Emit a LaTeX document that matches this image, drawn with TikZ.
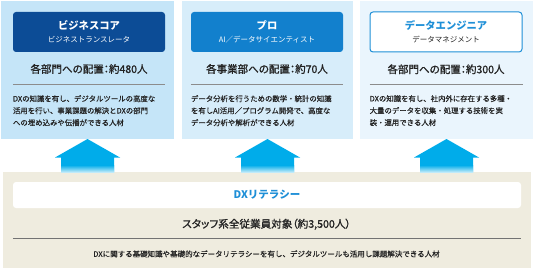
\documentclass[tikz,border=0pt]{standalone}
\usepackage{fontspec}
\setmainfont{Noto Sans CJK JP}
\newfontfamily\headfont{Noto Sans CJK JP}[FakeBold=1.2, RawFeature={+palt}]
\newfontfamily\descfont{Noto Sans CJK JP}[FakeBold=0.4]
\usetikzlibrary{positioning, calc}
\definecolor{corefill}{RGB}{197, 229, 248}
\definecolor{profill}{RGB}{215, 237, 250}
\definecolor{engfill}{RGB}{234, 245, 253}
\definecolor{corenavy}{RGB}{12, 76, 150}
\definecolor{problue}{RGB}{18, 128, 205}
\definecolor{engblue}{RGB}{30, 143, 215}
\definecolor{arrowcyan}{RGB}{0, 172, 234}
\definecolor{litbeige}{RGB}{239, 236, 223}
\definecolor{ink}{RGB}{35, 35, 35}
\definecolor{rulegray}{RGB}{140, 140, 140}
\definecolor{litrule}{RGB}{115, 115, 115}
\newcommand{\rolefont}{\fontsize{10.3}{13}\selectfont\bfseries}

\begin{document}
\begin{tikzpicture}[x=1pt, y=-1pt,
            panel/.style={inner sep=0pt, outer sep=0pt, minimum width=171pt, minimum height=138pt},
            rolebox/.style={rounded corners=3pt, minimum width=152pt, minimum height=40pt, inner sep=0pt, align=center, font=\fontsize{7.5}{13}\selectfont},
            headcount/.style={inner sep=0pt, text height=.88em, text depth=.12em, text=ink, font=\headfont\fontsize{10.5}{12}\selectfont},
            desc/.style={inner sep=0pt, align=left, text=ink, font=\descfont\fontsize{7.4}{12}\selectfont},
            divider/.style={draw=rulegray, line width=1pt},
            uparrow/.style={fill=arrowcyan},
            arrowfade/.style={top color=arrowcyan, bottom color=arrowcyan!25!white}
        ]
            \useasboundingbox (0,0) rectangle (533,270);

            % three role panels
            \node[panel, fill=corefill, minimum width=173pt] (corepanel) at (87.5,70) {};
            \node[panel, fill=profill] (propanel) at (267.5,70) {};
            \node[panel, fill=engfill, minimum width=173pt] (engpanel) at (446.5,70) {};

            \node[rolebox, fill=corenavy, text=white] (corebox) at (89,32) {{\rolefont ビジネスコア}\\ビジネストランスレータ};
            \node[rolebox, fill=problue, text=white] (probox) at (267,32) {{\rolefont プロ}\\AI／データサイエンティスト};
            \node[rolebox, fill=white, draw=engblue, line width=1pt, text=ink] (engbox) at (446,32) {{\rolefont\color{engblue}データエンジニア}\\データマネジメント};

            \node[headcount, below=11.75pt of corebox] (corecount) {各部門への配置：約480人};
            \node[headcount, below=11.75pt of probox] (procount) {各事業部への配置：約70人};
            \node[headcount, below=11.75pt of engbox] (engcount) {各部門への配置：約300人};

            \draw[divider] (corebox.west |- 0,85) -- (corebox.east |- 0,85);
            \draw[divider] (probox.west |- 0,85) -- (probox.east |- 0,85);
            \draw[divider] (engbox.west |- 0,85) -- (engbox.east |- 0,85);

            \node[desc, anchor=north west] (coredesc) at (corebox.west |- 0,95) {DXの知識を有し、デジタルツールの高度な\\活用を行い、事業課題の解決とDXの部門\\への埋め込みや伝播ができる人材};
            \node[desc, anchor=north west] (prodesc) at (probox.west |- 0,95) {データ分析を行うための数学・統計の知識\\を有しAI活用／プログラム開発で、高度な\\データ分析や解析ができる人材};
            \node[desc, anchor=north west] (engdesc) at (engbox.west |- 0,95) {DXの知識を有し、社内外に存在する多種・\\大量のデータを収集・処理する技術を実\\装・運用できる人材};

            % literacy base
            \node[inner sep=0pt, fill=litbeige, minimum width=528pt, minimum height=96pt] (litpanel) at (267,220) {};
            \foreach \p in {corepanel, propanel, engpanel} {
                \fill[uparrow] (\p.south) -- ++(32.5,18.5) -- ++(-6,0) -- ++(0,14.5) -- ++(-53,0) -- ++(0,-14.5) -- ++(-6,0) -- cycle;
                \fill[arrowfade] ([xshift=-26.5pt, yshift=-26pt]\p.south) rectangle ([xshift=26.5pt, yshift=-33pt]\p.south);
            }

            \node[fill=white, rounded corners=3pt, minimum width=508pt, minimum height=26pt, inner sep=0pt, text=engblue, font=\fontsize{10.5}{12}\selectfont\bfseries] (litbox) at (267,195) {DXリテラシー};
            \node[headcount, font=\headfont\fontsize{10.6}{12}\selectfont] (litcount) at (266.5,224) {スタッフ系全従業員対象（約3,500人）};
            \draw[divider, draw=litrule] (litbox.west |- 0,238) -- (litbox.east |- 0,238);
            \node[headcount, font=\descfont\fontsize{7.5}{12}\selectfont] (litdesc) at (266.5,253) {DXに関する基礎知識や基礎的なデータリテラシーを有し、デジタルツールも活用し課題解決できる人材};
        \end{tikzpicture}
\end{document}
